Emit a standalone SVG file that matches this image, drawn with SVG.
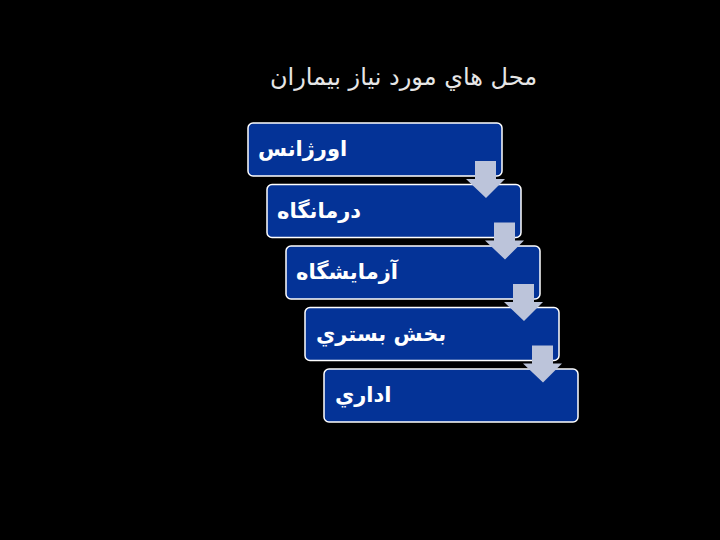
<svg xmlns="http://www.w3.org/2000/svg" width="720" height="540" viewBox="0 0 720 540">
<style>
.box{fill:#043397;stroke:#ffffff;stroke-width:1.5}
.lbl{font-family:"DejaVu Sans","Noto Sans",sans-serif;font-weight:bold;font-size:21px;fill:#ffffff}
.arr{fill:#bcc4da}
.title{font-family:"DejaVu Sans","Noto Sans",sans-serif;font-size:24px;fill:#e6e6e6}
</style>
<defs>
<path id="ar" d="M475,161 H496 V179 H505 L486,198 L466,179 H475 Z"/>
</defs>
<rect width="720" height="540" fill="#000000"/>
<text class="title" x="403.5" y="85" text-anchor="middle">محل هاي مورد نياز بيماران</text>
<g id="n1"><rect class="box" x="248" y="123" width="254" height="53" rx="5"/><text class="lbl" x="258" y="156">اورژانس</text></g>
<g id="n2"><rect class="box" x="267" y="184.5" width="254" height="53" rx="5"/><text class="lbl" x="277" y="217.5">درمانگاه</text></g>
<g id="n3"><rect class="box" x="286" y="246" width="254" height="53" rx="5"/><text class="lbl" x="296" y="279">آزمايشگاه</text></g>
<g id="n4"><rect class="box" x="305" y="307.5" width="254" height="53" rx="5"/><text class="lbl" x="316" y="340.5">بخش بستري</text></g>
<g id="n5"><rect class="box" x="324" y="369" width="254" height="53" rx="5"/><text class="lbl" x="335" y="402">اداري</text></g>
<g id="connectors">
<use href="#ar" class="arr"/>
<use href="#ar" class="arr" transform="translate(19,61.5)"/>
<use href="#ar" class="arr" transform="translate(38,123)"/>
<use href="#ar" class="arr" transform="translate(57,184.5)"/>
</g>
</svg>
